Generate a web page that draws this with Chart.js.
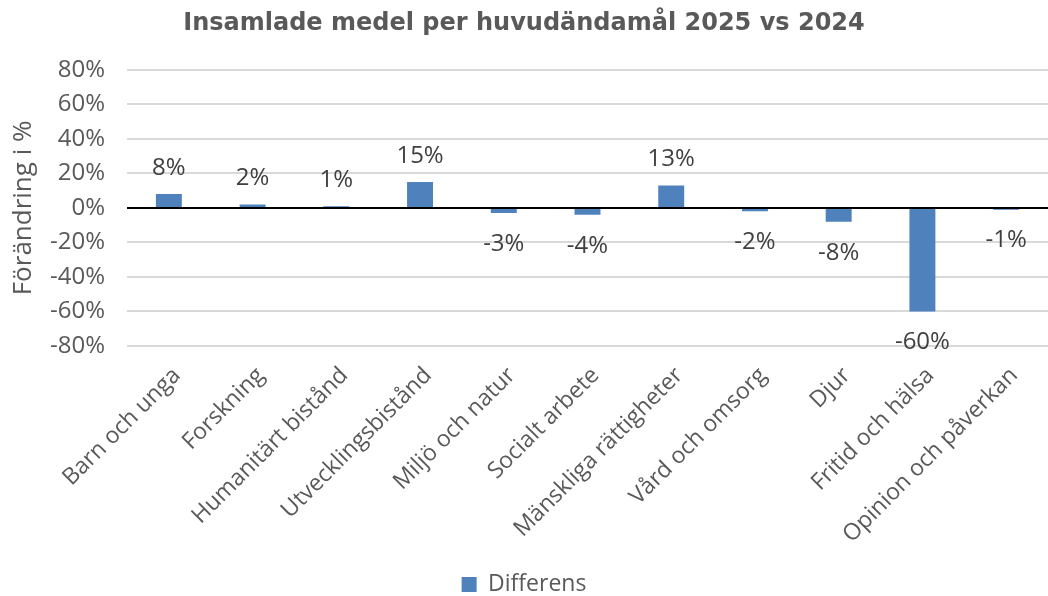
<!DOCTYPE html>
<html>
<head>
<meta charset="utf-8">
<script src="https://cdn.jsdelivr.net/npm/chart.js@4.4.1/dist/chart.umd.min.js"></script>
<style>
  html, body { margin: 0; padding: 0; background: #fff; }
  #wrap { width: 1048px; height: 596px; }
</style>
</head>
<body>
<div id="wrap"><canvas id="chart" width="1048" height="596"></canvas></div>
<script>
const categories = [
  'Barn och unga', 'Forskning', 'Humanitärt bistånd', 'Utvecklingsbistånd',
  'Miljö och natur', 'Socialt arbete', 'Mänskliga rättigheter', 'Vård och omsorg',
  'Djur', 'Fritid och hälsa', 'Opinion och påverkan'
];
const differens = [8, 2, 1, 15, -3, -4, 13, -2, -8, -60, -1];
const yTicks = [-80, -60, -40, -20, 0, 20, 40, 60, 80];

const tickFont = { family: 'Open Sans', size: 24 };

// draws the value above positive bars and below negative ones
const valueLabels = {
  id: 'valueLabels',
  afterDatasetsDraw(chart) {
    const ctx = chart.ctx;
    const meta = chart.getDatasetMeta(0);
    ctx.save();
    ctx.font = '24px "Open Sans"';
    ctx.fillStyle = '#404040';
    ctx.textAlign = 'center';
    ctx.textBaseline = 'middle';
    meta.data.forEach((bar, i) => {
      const v = differens[i];
      const y = v >= 0 ? Math.min(bar.y, bar.base) - 26 : Math.max(bar.y, bar.base) + 31;
      ctx.fillText(v + '%', bar.x, y);
    });
    ctx.restore();
  }
};

new Chart(document.getElementById('chart'), {
  type: 'bar',
  data: {
    labels: categories,
    datasets: [{
      label: 'Differens',
      data: differens,
      backgroundColor: '#4f81bd',
      categoryPercentage: 1,
      barPercentage: 0.31
    }]
  },
  options: {
    responsive: false,
    animation: false,
    layout: { padding: { top: 0, left: 0, right: 0, bottom: -10 } },
    plugins: {
      title: {
        display: true,
        text: 'Insamlade medel per huvudändamål 2025 vs 2024',
        color: '#595959',
        font: { family: 'DejaVu Sans', size: 24, weight: 'bold' },
        padding: { top: 9, bottom: 32 }
      },
      legend: {
        position: 'bottom',
        labels: {
          color: '#595959',
          font: { family: 'Open Sans', size: 23 },
          boxWidth: 15,
          boxHeight: 15,
          padding: 1
        }
      },
      tooltip: { enabled: false }
    },
    scales: {
      x: {
        grid: { display: false },
        border: { display: false },
        ticks: {
          color: '#595959',
          font: { family: 'Open Sans', size: 23 },
          minRotation: 45,
          maxRotation: 45,
          autoSkip: false,
          padding: 8,
          labelOffset: 8
        },
        afterFit: s => { s.height = 226; }
      },
      y: {
        min: -80,
        max: 80,
        afterBuildTicks: s => { s.ticks = yTicks.map(v => ({ value: v })); },
        grid: {
          drawTicks: false,
          lineWidth: 2,
          color: c => c.tick && c.tick.value === 0 ? '#000000' : '#d9d9d9'
        },
        border: { display: false },
        ticks: {
          color: '#595959',
          font: tickFont,
          padding: 22,
          callback: v => v + '%'
        },
        title: {
          display: true,
          text: 'Förändring i %',
          color: '#595959',
          font: { family: 'Open Sans', size: 26 },
          padding: { top: 8, bottom: 0 }
        },
        afterFit: s => { s.width = 127; }
      }
    }
  },
  plugins: [valueLabels]
});
</script>
</body>
</html>
